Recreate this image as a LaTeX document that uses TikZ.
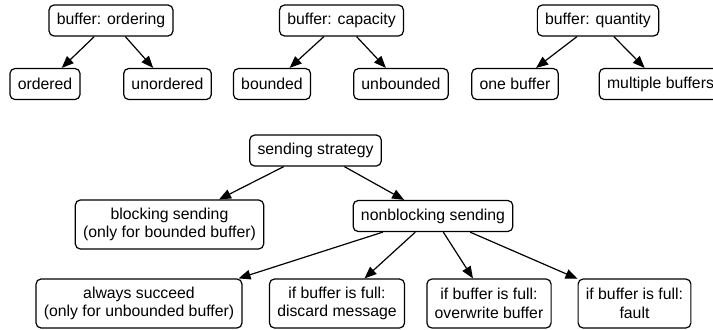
\documentclass[tikz,border=0pt]{standalone}
\usepackage{fontspec}
\setmainfont{Liberation Sans}
\usetikzlibrary{arrows.meta}
\begin{document}
\begin{tikzpicture}[x=0.5pt, y=-0.5pt, line width=0.6pt,
  >={Triangle[length=6pt,width=4.8pt]},
  box/.style={draw, rounded corners=2.5pt, inner xsep=3.9pt, inner ysep=0pt,
    minimum height=15.5pt, font=\fontsize{7.9}{9.2}\selectfont},
  twoline/.style={box, align=center, minimum height=24.5pt}]
  \useasboundingbox (0,0) rectangle (713,329);

  % buffer: ordering
  \node[box] (ordering) at (111,20.5) {buffer: ordering};
  \node[box] (ordered) at (45,84) {ordered};
  \node[box] (unordered) at (167.5,84) {unordered};
  \draw[->] (ordering) -- (ordered);
  \draw[->] (ordering) -- (unordered);

  % buffer: capacity
  \node[box] (capacity) at (341.5,20.5) {buffer: capacity};
  \node[box] (bounded) at (272,84) {bounded};
  \node[box] (unbounded) at (401,84) {unbounded};
  \draw[->] (capacity) -- (bounded);
  \draw[->] (capacity) -- (unbounded);

  % buffer: quantity
  \node[box] (quantity) at (598,20.5) {buffer: quantity};
  \node[box] (onebuf) at (515,84) {one buffer};
  \node[box] (multibuf) at (660.5,84) {multiple buffers};
  \draw[->] (quantity) -- (onebuf);
  \draw[->] (quantity) -- (multibuf);

  % sending strategy
  \node[box] (strategy) at (315.5,150.5) {sending strategy};
  \node[twoline] (blocking) at (169.5,224.5) {blocking sending\\(only for bounded buffer)};
  \node[box] (nonblock) at (433,216) {nonblocking sending};
  \draw[->] (strategy) -- (blocking);
  \draw[->] (strategy) -- (nonblock);

  % nonblocking variants
  \node[twoline] (always) at (139,303.5) {always succeed\\(only for unbounded buffer)};
  \node[twoline] (discard) at (337,303.5) {if buffer is full:\\discard message};
  \node[twoline] (overwrite) at (489,303.5) {if buffer is full:\\overwrite buffer};
  \node[twoline] (fault) at (634.5,303.5) {if buffer is full:\\fault};
  \draw[->] (nonblock) -- ([xshift=-2pt]always.north east);
  \draw[->] (nonblock) -- (discard);
  \draw[->] (nonblock) -- (overwrite);
  \draw[->] (nonblock) -- (fault);

\end{tikzpicture}
\end{document}
